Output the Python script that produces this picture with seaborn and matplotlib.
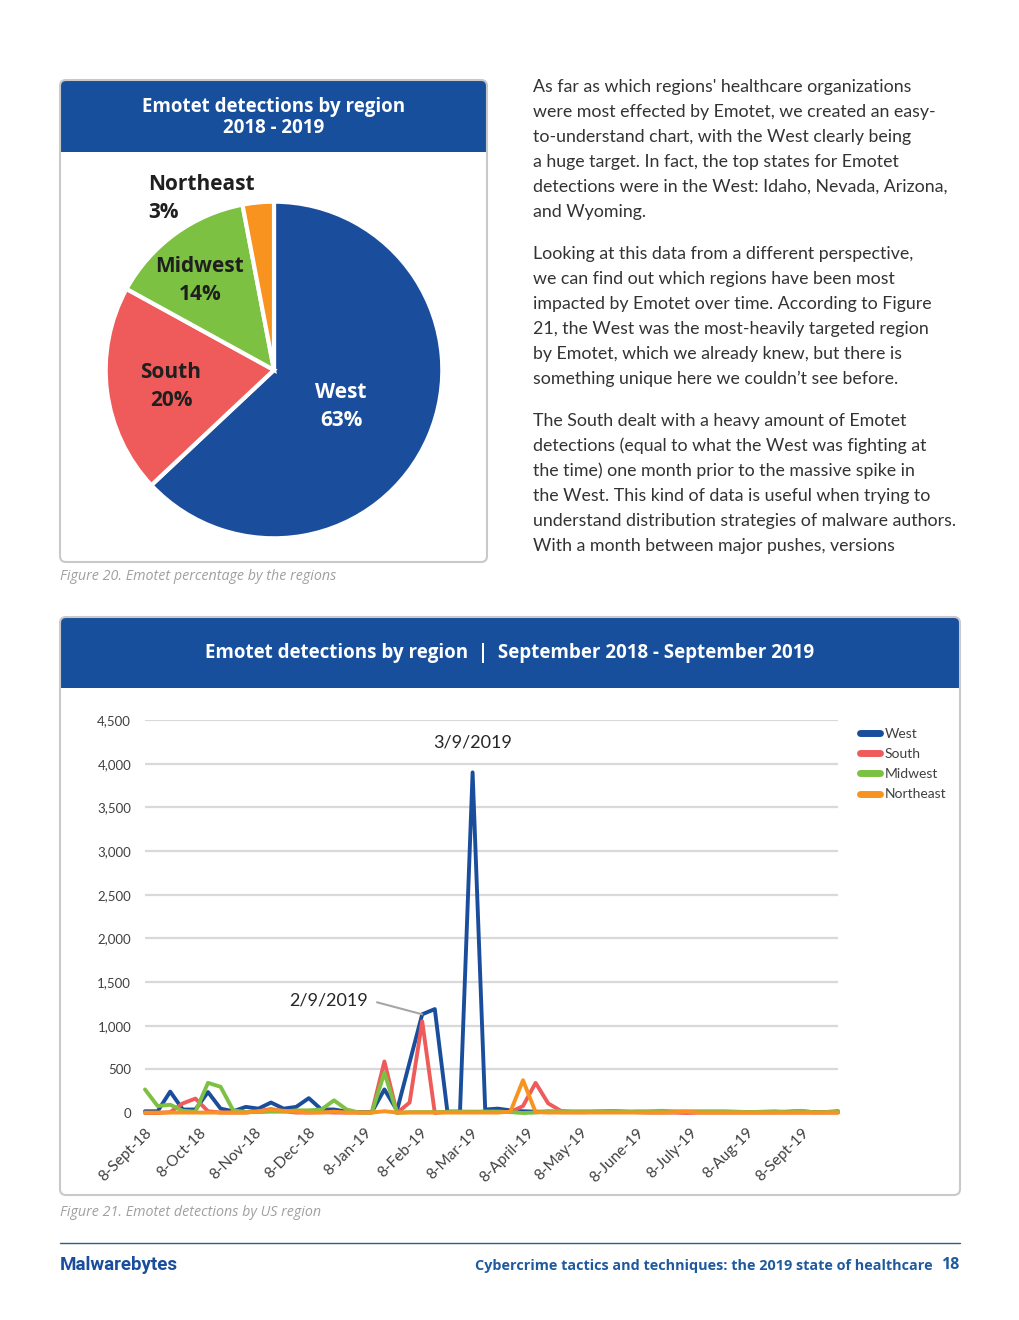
import pandas as pd
import matplotlib.pyplot as plt
import seaborn as sns
from matplotlib.patches import FancyBboxPatch, Rectangle
from matplotlib.ticker import FuncFormatter

# pie data
regions = ['West', 'South', 'Midwest', 'Northeast']
shares = [63, 20, 14, 3]
colors = ['#1a4e9c', '#ef5b5b', '#7cc142', '#f7931e']

# weekly detections, Saturdays from 8 Sept 2018
dates = pd.date_range('2018-09-08', periods=56, freq='7D')
west = [20, 20, 245, 40, 40, 240, 50, 20, 70, 50,
        120, 50, 70, 170, 40, 40, 15, 10, 10, 270,
        30, 580, 1130, 1190, 15, 15, 3900, 40, 50, 30,
        20, 15, 15, 10, 10, 10, 15, 20, 15, 10,
        10, 10, 10, 10, 10, 10, 10, 10, 10, 10,
        10, 15, 20, 10, 10, 10]
south = [0, 0, 10, 110, 165, 20, 5, 5, 5, 20,
         45, 20, 5, 5, 10, 5, 5, 5, 5, 590,
         0, 120, 1050, 0, 15, 15, 15, 15, 15, 10,
         80, 345, 110, 25, 10, 10, 15, 15, 15, 10,
         5, 5, 5, 0, 5, 5, 5, 5, 5, 5,
         5, 5, 5, 5, 5, 5]
midwest = [270, 80, 95, 25, 15, 345, 300, 30, 10, 10,
           15, 15, 30, 30, 40, 145, 40, 5, 5, 460,
           0, 10, 10, 10, 10, 15, 10, 15, 15, 10,
           0, 5, 20, 20, 20, 20, 20, 20, 15, 20,
           20, 25, 20, 20, 20, 20, 20, 15, 10, 15,
           20, 10, 25, 10, 10, 25]
northeast = [5, 5, 5, 5, 5, 5, 5, 5, 5, 20,
             35, 25, 15, 5, 5, 15, 5, 5, 5, 20,
             5, 5, 5, 5, 5, 5, 5, 5, 5, 15,
             375, 10, 5, 5, 5, 5, 5, 5, 5, 5,
             5, 5, 10, 15, 5, 5, 5, 5, 5, 5,
             5, 5, 5, 5, 5, 5]

tick_dates = pd.to_datetime(['2018-09-08', '2018-10-08', '2018-11-08', '2018-12-08',
                             '2019-01-08', '2019-02-08', '2019-03-08', '2019-04-08',
                             '2019-05-08', '2019-06-08', '2019-07-08', '2019-08-08',
                             '2019-09-08'])
tick_labels = ['8-Sept-18', '8-Oct-18', '8-Nov-18', '8-Dec-18', '8-Jan-19', '8-Feb-19',
               '8-Mar-19', '8-April-19', '8-May-19', '8-June-19', '8-July-19',
               '8-Aug-19', '8-Sept-19']

body = [
    ["As far as which regions' healthcare organizations",
     "were most effected by Emotet, we created an easy-",
     "to-understand chart, with the West clearly being",
     "a huge target. In fact, the top states for Emotet",
     "detections were in the West: Idaho, Nevada, Arizona,",
     "and Wyoming."],
    ["Looking at this data from a different perspective,",
     "we can find out which regions have been most",
     "impacted by Emotet over time. According to Figure",
     "21, the West was the most-heavily targeted region",
     "by Emotet, which we already knew, but there is",
     "something unique here we couldn\u2019t see before."],
    ["The South dealt with a heavy amount of Emotet",
     "detections (equal to what the West was fighting at",
     "the time) one month prior to the massive spike in",
     "the West. This kind of data is useful when trying to",
     "understand distribution strategies of malware authors.",
     "With a month between major pushes, versions"],
]

sns.set_theme(style='white')
plt.rcParams['font.family'] = ['Lato', 'DejaVu Sans']

W, H = 1020, 1320
fig = plt.figure(figsize=(W / 100, H / 100), dpi=100)
fig.patch.set_facecolor('white')

# background axes in pixel units for panels and page text
bg = fig.add_axes([0, 0, 1, 1])
bg.set_xlim(0, W)
bg.set_ylim(H, 0)
bg.axis('off')

head_blue = '#174f9c'
bold_font = ['Open Sans', 'DejaVu Sans']


def panel(x0, y0, x1, y1, head_h):
    r = 6
    head = FancyBboxPatch((x0, y0), x1 - x0, head_h, boxstyle=f'round,pad=0,rounding_size={r}',
                          fc=head_blue, ec='none', zorder=1)
    bg.add_patch(head)
    bg.add_patch(Rectangle((x0, y0 + head_h / 2), x1 - x0, head_h / 2, fc=head_blue, ec='none', zorder=1))
    box = FancyBboxPatch((x0, y0), x1 - x0, y1 - y0, boxstyle=f'round,pad=0,rounding_size={r}',
                         fc='none', ec='#c9c9c9', lw=1.5, zorder=2)
    bg.add_patch(box)


panel(60, 80, 487, 562, 72)
panel(60, 617, 960, 1195, 71)

bg.text(274, 107, 'Emotet detections by region', color='white', fontsize=13.5, fontweight='bold',
        ha='center', va='center', family=bold_font)
bg.text(274, 128, '2018 - 2019', color='white', fontsize=13.5, fontweight='bold',
        ha='center', va='center', family=bold_font)
bg.text(510, 653, 'Emotet detections by region  |  September 2018 - September 2019', color='white',
        fontsize=13.5, fontweight='bold', ha='center', va='center', family=bold_font)

# body text
y = 87
for para in body:
    for line in para:
        bg.text(533, y, line, fontsize=12.8, color='#333333', ha='left', va='center')
        y += 25
    y += 17

# captions
cap_font = ['Open Sans', 'DejaVu Sans']
bg.text(60, 577, 'Figure 20. Emotet percentage by the regions', fontsize=10.3, style='italic',
        color='#a0a0a0', ha='left', va='center', family=cap_font)
bg.text(60, 1212, 'Figure 21. Emotet detections by US region', fontsize=10.3, style='italic',
        color='#a0a0a0', ha='left', va='center', family=cap_font)

# footer
bg.plot([60, 960], [1243, 1243], color='#2c5d8c', lw=1)
bg.text(60, 1265, 'Malwarebytes', fontsize=13.5, fontweight='bold', color='#1a4e9c',
        ha='left', va='center', family=['Roboto', 'DejaVu Sans'])
bg.text(933, 1266, 'Cybercrime tactics and techniques: the 2019 state of healthcare', fontsize=10.4,
        fontweight='bold', color='#1f5a9e', ha='right', va='center', family=bold_font)
bg.text(959, 1265, '18', fontsize=11.5, fontweight='bold', color='#1f5a9e',
        ha='right', va='center', family=bold_font)

# pie chart
cx, cy, r = 274, 370, 170
pie_ax = fig.add_axes([(cx - r) / W, 1 - (cy + r) / H, 2 * r / W, 2 * r / H])
pie_ax.pie(shares, colors=colors, startangle=90, counterclock=False,
           wedgeprops=dict(edgecolor='white', linewidth=3))
pie_ax.set_xlim(-1.01, 1.01)
pie_ax.set_ylim(-1.01, 1.01)
pie_ax.set_aspect('equal')

lab_kw = dict(fontsize=15, fontweight='bold', va='center', family=bold_font,
              transform=bg.transData, clip_on=False)
pie_labels = [('Northeast', '3%', 148, 184, 'left', '#1f1f1f'),
              ('Midwest', '14%', 200, 267, 'center', '#1f1f1f'),
              ('South', '20%', 171, 373, 'center', '#1f1f1f'),
              ('West', '63%', 341, 392, 'center', 'white')]
for name, pct, lx, ly, ha, col in pie_labels:
    pie_ax.text(lx, ly, name, color=col, ha=ha, **lab_kw)
    pie_ax.text(lx, ly + 28, pct, color=col, ha=ha, **lab_kw)

# line chart
df = pd.DataFrame({'date': dates, 'West': west, 'South': south,
                   'Midwest': midwest, 'Northeast': northeast})
long_df = df.melt(id_vars='date', var_name='region', value_name='detections')

ax = fig.add_axes([145 / W, 1 - 1113 / H, (838 - 145) / W, (1113 - 720) / H])
sns.lineplot(data=long_df, x='date', y='detections', hue='region', hue_order=regions,
             palette=colors, linewidth=2.8, ax=ax)
for ln in ax.get_lines():
    ln.set_clip_on(False)

ax.set_xlim(dates[0], dates[-1])
ax.set_ylim(0, 4500)
ax.set_yticks(range(0, 4501, 500))
ax.yaxis.set_major_formatter(FuncFormatter(lambda v, p: f'{v:,.0f}'))
ax.set_xticks(tick_dates)
ax.set_xticklabels(tick_labels, rotation=45, ha='right', rotation_mode='anchor')
ax.tick_params(axis='y', length=0, labelsize=9.5, colors='#404040', pad=10)
ax.tick_params(axis='x', length=0, labelsize=11, colors='#404040', pad=9)
ax.set_xlabel('')
ax.set_ylabel('')
ax.yaxis.grid(True, color='#d9d9d9', lw=1.6)
ax.xaxis.grid(False)
ax.set_axisbelow(True)
sns.despine(ax=ax, left=True, bottom=True)
ax.set_facecolor('none')

sns.move_legend(ax, loc='upper left', bbox_to_anchor=(847 / W, 1 - 715 / H),
                bbox_transform=fig.transFigure, frameon=False, title=None,
                fontsize=10, handlelength=1.5, handletextpad=0.3, labelspacing=0.6,
                labelcolor='#404040')
for h in ax.get_legend().get_lines():
    h.set_linewidth(5)
    h.set_solid_capstyle('round')

ax.text(pd.Timestamp('2019-03-09'), 4240, '3/9/2019', ha='center', va='center',
        fontsize=13, color='#262626')
ax.annotate('2/9/2019', xy=(pd.Timestamp('2019-02-09'), 1130), xytext=(329, H - 1000),
            textcoords='figure pixels', ha='center', va='center', fontsize=13, color='#262626',
            arrowprops=dict(arrowstyle='-', color='#a6a6a6', lw=1.5, shrinkA=4, shrinkB=0,
                            relpos=(1, 0.5)))

fig.savefig('out.png', dpi=100, facecolor='white')
